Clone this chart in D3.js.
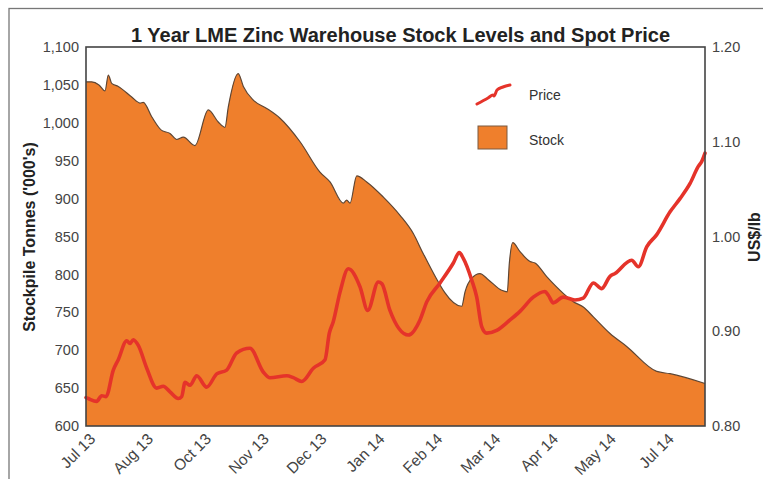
<!DOCTYPE html>
<html><head><meta charset="utf-8">
<script src="https://cdn.jsdelivr.net/npm/d3@7"></script>
<style>
html,body{margin:0;padding:0;background:#fff;}
svg{display:block;font-family:"Liberation Sans",Arial,sans-serif;}
</style></head>
<body><svg id="c" width="763" height="479"></svg>
<script>
// ---- data (x in weeks since start of window) ----
const xTickWeeks = [0.5,5.5,10.5,15.5,20.5,25.5,30.5,35.5,40.5,45.5,50.5];
const xTickLabels = ["Jul 13","Aug 13","Oct 13","Nov 13","Dec 13","Jan 14","Feb 14","Mar 14","Apr 14","May 14","Jul 14"];
const stockTicks = [600,650,700,750,800,850,900,950,1000,1050,1100];
const priceTicks = [0.80,0.90,1.00,1.10,1.20];

const stockWeek = [0,0.49,1.12,1.64,1.93,2.22,2.79,3.95,4.67,4.95,5.68,6.54,7.26,7.84,8.41,9.42,10.57,11.43,12.01,12.30,13.16,13.60,14.46,15.62,16.77,18.50,20.22,21.09,22.24,22.53,22.82,23.40,24.26,25.70,27.14,28.29,29.13,32.47,32.76,33.34,34.05,34.77,35.93,36.41,36.59,36.88,37.51,38.38,38.81,39.82,41.25,42.12,42.98,43.85,45.29,46.73,49.33,50.48,53.5];
const stockValue = [1054,1054,1050,1042,1063,1052,1048,1034,1026,1027,1008,990,986,978,981,970,1017,1001,994,1021,1065,1048,1030,1019,1006,975,935,922,894,898,894,930,922,902,878,854,828,758,777,795,801,793,779,777,815,842,830,817,815,797,775,764,757,744,722,705,672,669,656];

const priceWeek = [0,0.20,0.92,1.36,1.73,2.36,2.79,3.52,3.80,4.09,4.52,5.25,6.11,6.68,7.26,7.98,8.27,8.56,8.99,9.57,10.43,11.30,12.16,13.02,14.17,15.32,15.90,17.35,17.92,18.64,19.65,20.66,21.03,21.37,21.95,22.67,23.68,24.35,25.26,25.58,26.27,27.86,28.87,29.45,30.60,31.75,32.26,32.61,33.34,33.77,34.20,34.63,35.50,36.65,37.51,38.66,39.67,39.96,40.39,41.25,42.26,42.98,43.85,44.57,45.29,45.72,47.16,47.74,48.46,49.33,50.48,51.34,52.21,52.92,53.21,53.5];
const priceValue = [0.830,0.829,0.826,0.832,0.831,0.859,0.870,0.890,0.887,0.891,0.885,0.861,0.840,0.842,0.836,0.829,0.831,0.846,0.843,0.853,0.841,0.855,0.859,0.877,0.882,0.857,0.851,0.853,0.851,0.847,0.861,0.870,0.898,0.910,0.941,0.966,0.947,0.922,0.952,0.950,0.922,0.896,0.912,0.931,0.951,0.972,0.983,0.977,0.954,0.936,0.905,0.898,0.901,0.912,0.921,0.936,0.942,0.938,0.930,0.936,0.933,0.935,0.951,0.945,0.958,0.961,0.975,0.968,0.989,1.002,1.026,1.040,1.056,1.074,1.079,1.088];

const titleText = "1 Year LME Zinc Warehouse Stock Levels and Spot Price";
const leftTitle = "Stockpile Tonnes ('000's)";
const rightTitle = "US$/lb";
const legendLabels = ["Price","Stock"];

// ---- layout ----
const W = 763, H = 479;
const m = {left:86, right:705, top:47, bottom:426};
const ORANGE = "#EF7F2C", RED = "#E5332A", OUTLINE = "#5e4634", AXIS = "#444";

const svg = d3.select("#c");
svg.append("rect").attr("width",W).attr("height",H).attr("fill","#fff");
svg.append("rect").attr("x",9).attr("y",8.5).attr("width",800).attr("height",500)
   .attr("fill","none").attr("stroke","#777").attr("stroke-width",1.3);

const x = d3.scaleLinear().domain([0,53.5]).range([m.left,m.right]);
const yS = d3.scaleLinear().domain([600,1100]).range([m.bottom,m.top]);
const yP = d3.scaleLinear().domain([0.80,1.20]).range([m.bottom,m.top]);

const stock = stockWeek.map((w,i)=>({w, v:stockValue[i]}));
const price = priceWeek.map((w,i)=>({w, v:priceValue[i]}));

// stock area
svg.append("path").datum(stock)
  .attr("d", d3.area().x(d=>x(d.w)).y0(yS(600)).y1(d=>yS(d.v)).curve(d3.curveMonotoneX))
  .attr("fill",ORANGE);
svg.append("path").datum(stock)
  .attr("d", d3.line().x(d=>x(d.w)).y(d=>yS(d.v)).curve(d3.curveMonotoneX))
  .attr("fill","none").attr("stroke",OUTLINE).attr("stroke-width",1.2);

// price line
svg.append("path").datum(price)
  .attr("d", d3.line().x(d=>x(d.w)).y(d=>yP(d.v)).curve(d3.curveMonotoneX))
  .attr("fill","none").attr("stroke",RED).attr("stroke-width",3.6)
  .attr("stroke-linejoin","round").attr("stroke-linecap","round");

// plot frame
svg.append("rect").attr("x",m.left).attr("y",m.top).attr("width",m.right-m.left).attr("height",m.bottom-m.top)
  .attr("fill","none").attr("stroke",AXIS).attr("stroke-width",1.6);

// axes
const gl = svg.append("g").attr("transform",`translate(${m.left},0)`)
  .call(d3.axisLeft(yS).tickValues(stockTicks).tickSize(0).tickPadding(7).tickFormat(d3.format(",")));
const gr = svg.append("g").attr("transform",`translate(${m.right},0)`)
  .call(d3.axisRight(yP).tickValues(priceTicks).tickSize(0).tickPadding(7).tickFormat(d3.format(".2f")));
const gx = svg.append("g").attr("transform",`translate(0,${m.bottom})`)
  .call(d3.axisBottom(x).tickValues(xTickWeeks).tickSize(0).tickFormat((d,i)=>xTickLabels[i]));
[gl,gr,gx].forEach(g=>{
  g.select(".domain").remove();
  g.selectAll("text").attr("fill","#444").style("font-size","14.5px").style("font-family","'Liberation Sans',Arial,sans-serif");
});
gx.selectAll(".tick text").attr("text-anchor","end").attr("y",0).attr("dy",0)
  .style("font-size","15.5px")
  .attr("transform","translate(4,14) rotate(-45)");

// titles
svg.append("text").attr("x",400.5).attr("y",41.5).attr("text-anchor","middle")
  .style("font-size","20px").style("font-weight","bold").attr("fill","#222").text(titleText);
svg.append("text").attr("transform","translate(35,237) rotate(-90)").attr("text-anchor","middle")
  .style("font-size","16px").style("font-weight","bold").attr("fill","#222").text(leftTitle);
svg.append("text").attr("transform","translate(760,237) rotate(-90)").attr("text-anchor","middle")
  .style("font-size","16px").style("font-weight","bold").attr("fill","#222").text(rightTitle);

// legend
const lg = svg.append("g").attr("transform","translate(477,104)");
const iconPts = [[0,0],[11,-6],[16,-9],[17,-8],[20,-14],[26,-17],[33,-19]];
lg.append("path").attr("d", d3.line().curve(d3.curveMonotoneX)(iconPts))
  .attr("fill","none").attr("stroke",RED).attr("stroke-width",3).attr("stroke-linecap","round");
lg.append("text").attr("x",52).attr("y",-4).style("font-size","14px").attr("fill","#333").text(legendLabels[0]);
lg.append("rect").attr("x",1).attr("y",22).attr("width",29).attr("height",23)
  .attr("fill",ORANGE).attr("stroke","#7a5a40").attr("stroke-width",1);
lg.append("text").attr("x",52).attr("y",41).style("font-size","14px").attr("fill","#333").text(legendLabels[1]);
</script></body></html>
